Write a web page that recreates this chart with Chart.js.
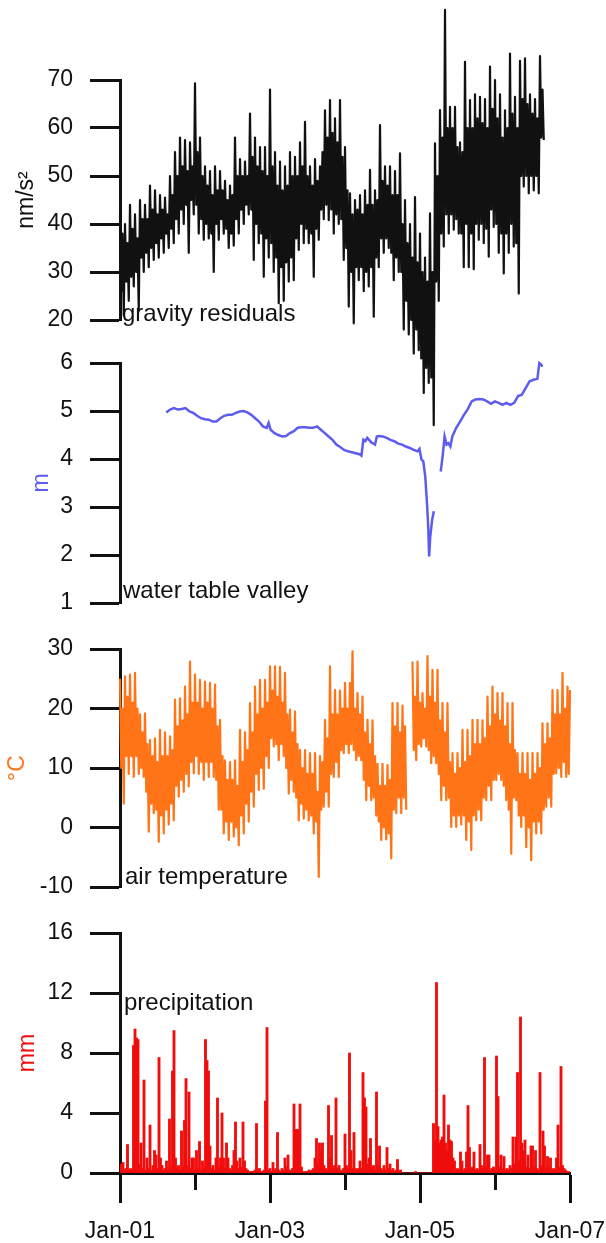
<!DOCTYPE html>
<html>
<head>
<meta charset="utf-8">
<script src="https://cdn.jsdelivr.net/npm/chart.js@4.4.0/dist/chart.umd.min.js"></script>
<style>
  html, body { margin: 0; padding: 0; background: #fff; }
  #wrap { position: relative; width: 606px; height: 1243px; overflow: hidden; }
  #wrap canvas { position: absolute; left: 0; top: 0; }
  .lbl { position: absolute; font: 24px "Liberation Sans", Arial, sans-serif; line-height: 24px; color: #111; white-space: nowrap; }
</style>
</head>
<body>
<div id="wrap">
  <canvas id="precipChart" width="606" height="1243"></canvas>
  <canvas id="tempChart" width="606" height="1243"></canvas>
  <canvas id="waterChart" width="606" height="1243"></canvas>
  <canvas id="gravityChart" width="606" height="1243"></canvas>
  <div class="lbl" style="left:122px;top:301px">gravity residuals</div>
  <div class="lbl" style="left:123px;top:578px">water table valley</div>
  <div class="lbl" style="left:125px;top:864px">air temperature</div>
  <div class="lbl" style="left:124px;top:990px">precipitation</div>
</div>
<script>
// ---------- data ----------
const yearTicks = [2001, 2002, 2003, 2004, 2005, 2006, 2007];
const yearTickLabels = ['Jan-01', '', 'Jan-03', '', 'Jan-05', '', 'Jan-07'];

// gravity residuals, nm/s², one value every 1/60 year (high / low swings of the noisy record)
const gravityStart = 2001, gravityStep = 1 / 60;
const gravityResiduals = [
  42, 26, 38, 21, 40, 28, 36, 24, 44, 29, 39, 27, 42, 30, 37, 22, 45, 33, 41, 30,
  44, 34, 41, 31, 48, 35, 43, 32.5, 47, 36, 42, 33, 46, 37, 43, 34, 45.5, 38, 42, 35,
  50, 39, 46, 36, 55, 41, 50, 38, 58, 43, 52, 40, 57.5, 44, 51, 34, 57, 45, 52, 42,
  69.3, 44, 55, 38, 58, 41, 50, 36.7, 52, 40, 48, 37, 51, 38, 46, 30, 52, 40, 47, 36.7,
  51, 41, 47, 38, 49, 39, 45, 35, 48, 38, 46, 35.5, 58, 41, 50, 38, 53.5, 43, 50, 40,
  53, 44, 50, 42, 63, 43, 54, 32.5, 58, 40, 52, 36, 56, 38, 51, 29, 56, 37, 50, 33,
  68, 36, 52, 30, 55, 33, 48, 23.5, 53, 31, 47, 24, 52, 32, 48, 28, 55, 33, 50, 28.3,
  54, 37, 50, 34.6, 57, 40, 52, 36, 61.3, 39, 50, 36, 52, 38, 48, 29, 53.5, 39, 49, 36.7,
  52, 43, 55, 41, 63.7, 44, 58, 40.8, 65.8, 43, 59, 38, 62, 42, 57, 40, 65.8, 41, 54, 32.5,
  56, 35, 47, 22.8, 46.4, 30, 42, 19.3, 45, 31, 43, 28.3, 46, 31, 42, 26, 47, 30, 44, 27,
  51.3, 31, 44, 20.7, 47, 33, 45, 31, 60.6, 37, 49, 34, 52, 37, 48, 35, 52, 34, 46, 28.3,
  51, 33, 46, 30, 54.7, 30, 40, 18, 45, 24, 36, 17, 40, 20, 33, 13, 45.6, 18, 32, 13.7,
  38, 12, 30, 4.8, 33, 10, 28, 6.9, 42.2, 8, 30, -1.9, 56.8, 28, 50, 24, 63.75, 38, 58, 35.3,
  84.6, 42, 60, 38, 64.4, 42, 60, 38.8, 64.4, 41, 56, 38, 57, 38, 55, 31, 73.8, 40, 60, 31,
  65.8, 38, 60, 30.6, 67, 40, 62, 36.7, 66.5, 40, 61, 36, 66, 39, 60, 33.2, 72.8, 43, 64, 39.4,
  70, 40, 62, 34, 67, 38, 58, 29.7, 63.7, 38, 60, 34, 75.5, 40, 63, 35.3, 66.5, 36, 60, 25.5,
  74, 50, 66, 47.8, 74.5, 50, 65, 46.4, 67, 50, 63, 47, 66, 50, 62, 46.4, 75, 58, 68, 57.5
];

// water table valley, m
const waterYears = [
  2001.617, 2001.668, 2001.720, 2001.771, 2001.823, 2001.874, 2001.926, 2001.977,
  2002.028, 2002.080, 2002.132, 2002.183, 2002.235, 2002.286, 2002.338, 2002.389,
  2002.441, 2002.492, 2002.544, 2002.596, 2002.647, 2002.699, 2002.750, 2002.802,
  2002.854, 2002.905, 2002.957, 2002.982, 2003.008, 2003.060, 2003.111, 2003.163,
  2003.214, 2003.266, 2003.318, 2003.369, 2003.421, 2003.472, 2003.524, 2003.575,
  2003.627, 2003.678, 2003.730, 2003.781, 2003.833, 2003.884, 2003.936, 2003.987,
  2004.039, 2004.091, 2004.142, 2004.194, 2004.219, 2004.245, 2004.271, 2004.297,
  2004.348, 2004.400, 2004.425, 2004.451, 2004.503, 2004.555, 2004.606, 2004.658,
  2004.709, 2004.761, 2004.812, 2004.864, 2004.916, 2004.967, 2004.993, 2005.019,
  2005.044, 2005.070, 2005.096, 2005.111, 2005.122, 2005.137, 2005.163, 2005.184,
  2005.230,
  2005.276, 2005.302, 2005.328, 2005.354, 2005.379, 2005.405, 2005.431, 2005.483,
  2005.534, 2005.586, 2005.637, 2005.689, 2005.740, 2005.792, 2005.843, 2005.895,
  2005.947, 2005.998, 2006.050, 2006.101, 2006.153, 2006.204, 2006.256, 2006.307,
  2006.359, 2006.410, 2006.462, 2006.513, 2006.565, 2006.591, 2006.616, 2006.631
];
const waterTable = [
  4.97, 5.03, 5.06, 5.03, 5.04, 5.06, 4.99, 4.96,
  4.90, 4.85, 4.83, 4.82, 4.78, 4.78, 4.85, 4.90,
  4.92, 4.92, 4.96, 4.99, 5.00, 4.97, 4.92, 4.85,
  4.78, 4.68, 4.65, 4.75, 4.61, 4.54, 4.50, 4.47,
  4.48, 4.54, 4.58, 4.65, 4.66, 4.66, 4.65, 4.65,
  4.68, 4.61, 4.54, 4.47, 4.40, 4.30, 4.25, 4.19,
  4.16, 4.14, 4.12, 4.10, 4.07, 4.40, 4.37, 4.44,
  4.35, 4.30, 4.47, 4.48, 4.47, 4.44, 4.40, 4.37,
  4.32, 4.30, 4.26, 4.23, 4.19, 4.16, 4.21, 3.99,
  3.95, 3.64, 3.01, 2.53, 1.97, 2.39, 2.74, 2.91,
  null,
  3.74, 4.06, 4.47, 4.30, 4.33, 4.26, 4.47, 4.65,
  4.78, 4.92, 5.04, 5.20, 5.24, 5.25, 5.24, 5.20,
  5.15, 5.20, 5.17, 5.13, 5.17, 5.13, 5.17, 5.31,
  5.34, 5.48, 5.62, 5.65, 5.67, 6.00, 5.97, 5.92
];

// air temperature, °C, one value every 1/60 year (daily highs / lows swing)
const tempStart = 2001, tempStep = 1 / 60;
const airTemperature = [
  25, 10, 20, 4, 25.4, 12, 22, 9, 25.7, 12, 21, 8.5, 26, 12, 20, 9, 19, 10, 16, 8.5,
  19.2, 6, 14, -0.7, 14.7, 4, 12, 2.4, 15, 3, 11, -2.4, 16.4, 2, 12, -1, 16, 3, 12, 0.5,
  15.3, 4, 13, 1.2, 21.5, 7, 17, 5.2, 21.7, 8, 18, 6, 23.7, 9, 19, 6.9, 27.9, 11, 21, 9.1,
  25.7, 12, 21, 9, 24.8, 11, 20, 8, 24.5, 11, 21, 8.5, 24.3, 11, 20, 8.5, 24, 8, 17, 3,
  18.1, 3, 12, -1, 11.3, 1, 8, -2.1, 11, 1, 8, -1.5, 11.3, 0, 7, -3, 16.4, 2, 11, -1,
  16, 4, 13, 1, 20.9, 6, 16, 3.5, 23.7, 9, 19, 6.3, 24.8, 10, 20, 6.5, 24.8, 12, 21, 10,
  27.1, 15, 23, 13.6, 27.1, 14, 22, 11.3, 27, 14, 21, 12, 26, 10, 19, 5.7, 19.8, 8, 16, 6,
  19.5, 5, 14, 1.2, 13, 4, 10, 1.5, 13, 3, 9, 1.2, 12.5, 2, 9, -1, 12.5, 1, 6, -8.3,
  12, 3, 11, 3.5, 18.1, 6, 15, 3.5, 27.1, 9, 19, 8.5, 23.1, 11, 19, 8.5, 23, 13, 20, 12.5,
  24.3, 14, 20, 12.5, 24.3, 14, 29.6, 13, 20, 11.3, 22.6, 12, 19, 11.3, 22, 8, 16, 4.6, 18.1, 7,
  14, 4.6, 18, 5, 12, 2, 10.7, 1, 7, -2.1, 10.7, 0, 7, -2, 10.5, -1, 8, -5.2, 20.9, 3,
  17, 2.4, 20.9, 5, 16, 2.4, 20.5, 5, 17, 3, null, null, null, null, 27.9, 13, 22, 11.3, 27.9, 14,
  21, 13.6, 22.6, 15, 20, 13.6, 28.8, 13, 22, 10.8, 26.5, 12, 21, 10.8, 26.5, 9, 18, 4.6, 20.9, 7,
  16, 4.6, 20.9, 5, 11, 0.1, 12.5, 2, 9, 0.1, 12.5, 2, 10, 0.5, 16.4, 2, 11, -2.1, 16.4, 1,
  12, -3.8, 18.1, 2, 14, 1.2, 18.1, 3, 14, 1.2, 18, 5, 15, 4.6, 22, 7, 17, 4.6, 23.7, 8,
  19, 8, 22.6, 9, 18, 8, 22.6, 7, 17, 4.6, 20.9, 3, 14, -4.4, 20.9, 5, 13, 4.6, 12.5, 2,
  9, 0.1, 12.5, 2, 9, -3.3, 12.5, 0, 8, -5.5, 12.5, 1, 9, -1, 12.5, 1, 10, -1, 17.5, 3,
  14, 3.5, 17.5, 5, 15, 3.5, 23.1, 9, 19, 9.1, 23.1, 10, 19, 8.5, 26, 11, 20, 8.5, 23.7, 9,
  23.1, 7.4
];

// precipitation, mm, one value every 0.02 year
const precipStart = 2001, precipStep = 0.02;
const precipitation = [
  0.5, 0.6, 0.7, 0.2, 0.3, 1.9, 0.2, 0.3, 0.2, 8.5,
  9.6, 9.0, 8.9, 0.6, 2, 0.3, 6.2, 0.2, 1, 0.3,
  3.2, 0.2, 0.5, 1.5, 1.2, 0.3, 7.7, 1, 0.5, 0.2,
  0.3, 0.8, 0.2, 3.6, 0.4, 6.8, 9.5, 1, 0.3, 0.5,
  0.2, 2.8, 0.4, 3.5, 6.3, 0.5, 5.4, 0.3, 1, 1,
  0.2, 1.5, 0.3, 2.1, 0.2, 0.8, 0.3, 8.9, 7.5, 6.8,
  1.8, 0.3, 0.5, 0.2, 1, 5, 0.4, 1, 4, 1,
  0.3, 2, 1, 0.3, 0.2, 0.5, 1.5, 3.4, 0.8, 0.3,
  1, 0.4, 3.4, 0.8, 0.3, 0.2, 0.1, 0.1, 0.1, 0.1,
  0.2, 3.3, 0.2, 0.3, 0.1, 0.1, 0.2, 4.8, 9.7, 0.2,
  0.3, 0.1, 0.7, 0.2, 0.3, 2.7, 0.2, 0.1, 0.3, 0.2,
  1, 0.4, 1.2, 0.2, 0.1, 0.3, 4.6, 2.9, 2.9, 2.9,
  4.6, 0.4, 0.1, 0.1, 0.1, 0.1, 0.2, 0.1, 0.2, 0.3,
  1, 2.3, 0.6, 2, 1.5, 2, 0.5, 0.3, 0.2, 4.5,
  1, 2.5, 0.3, 0.5, 5, 0.3, 0.5, 0.2, 0.1, 0.3,
  2.6, 0.5, 0.3, 8, 1.5, 0.3, 2.7, 0.3, 0.2, 0.3,
  0.8, 0.3, 6.7, 5, 4.4, 0.6, 1, 2.3, 0.3, 0.5,
  0.2, 5.4, 0.5, 1.8, 0.3, 0.2, 0.5, 0.2, 1.7, 0.3,
  0.6, 0.2, 0.3, 0.1, 0.2, 0.9, 0.1, 0.2, 0, 0,
  0, 0, 0, 0, 0, 0, 0, 0.1, 0, 0,
  0, 0, 0, 0, 0, 0, 0, 0, 0, 3.3,
  2.2, 12.7, 3.1, 2, 2.2, 2.4, 5.2, 2, 1.5, 3.2,
  2.2, 2.1, 1, 0.8, 0.2, 0.3, 0.2, 1.4, 0.8, 0.2,
  0.3, 1.4, 4.5, 1.7, 0.3, 0.4, 1.4, 0.2, 0.3, 0.2,
  1.9, 0.5, 0.3, 7.7, 0.4, 1.2, 1.2, 0.2, 0.3, 0.4,
  0.2, 7.8, 5.1, 0.4, 1.2, 0.3, 1.1, 0.2, 0.3, 0.2,
  0.5, 0.3, 2.4, 0.6, 2.4, 6.7, 0.8, 10.4, 2, 1.5,
  2.2, 0.4, 1.2, 0.3, 1.8, 1.8, 0.4, 1.5, 0.3, 0.2,
  6.7, 0.5, 2.8, 1.8, 0.3, 1.1, 0.4, 1, 0.2, 0.3,
  0.2, 1, 3.2, 0.4, 7.1, 0.5, 0.3, 0.2, 0.1, 0.1
];

// ---------- look ----------
const INK = '#111111';
const BLUE = '#5c5cef';
const ORANGE = '#ff7417';
const RED = '#f20d0d';
const PAGE_H = 1243;
const AXIS_W = 120;      // y axis block width -> plot starts at x=120
const X_AXIS_H = 70;     // bottom axis block height
const FONT = 23;

Chart.defaults.font.family = '"Liberation Sans", Arial, sans-serif';
Chart.defaults.font.size = FONT;
Chart.defaults.color = INK;

const regular = (values, start, step) => values.map((v, i) => ({ x: start + i * step, y: v }));
const xLabel = v => { const k = yearTicks.indexOf(v); return k >= 0 ? yearTickLabels[k] : ''; };

// dense noisy record: thin line, no clipping so swings can leave the panel
const trace = (values, start, step, color, width) => [{
  data: regular(values, start, step), borderColor: color, borderWidth: width,
  borderJoinStyle: 'round', pointRadius: 0, spanGaps: false, clip: false
}];

function makePanel(id, o) {
  const isMajor = v => Math.abs(v / o.labelEvery - Math.round(v / o.labelEvery)) < 1e-6;
  const padBottom = o.showX ? PAGE_H - o.bottom - X_AXIS_H : PAGE_H - o.bottom;
  return new Chart(document.getElementById(id), {
    type: o.type || 'line',
    data: { datasets: o.datasets },
    options: {
      responsive: false,
      animation: false,
      events: [],
      layout: { padding: { left: 0, right: 36, top: o.top, bottom: padBottom } },
      plugins: { legend: { display: false }, tooltip: { enabled: false } },
      scales: {
        x: {
          type: 'linear', min: 2001, max: 2007, offset: false, display: !!o.showX,
          afterFit: s => {
            if (!o.showX) return;
            s.height = X_AXIS_H;
            s.paddingLeft = 0; s.paddingRight = 0;   // keep the plot width equal in every panel
          },
          grid: {
            drawOnChartArea: false, offset: false, tickLength: 30, tickWidth: 3, tickColor: INK,
            tickBorderDash: c => (c.tick && xLabel(c.tick.value)) ? [] : [15, 100]
          },
          border: { width: 3, color: INK },
          ticks: { stepSize: 1, autoSkip: false, maxRotation: 0, padding: 15, color: INK, callback: xLabel }
        },
        y: {
          min: o.yMin, max: o.yMax,
          afterFit: s => { s.width = AXIS_W; },
          grid: {
            drawOnChartArea: false, tickLength: 30, tickWidth: 3, tickColor: INK,
            tickBorderDash: c => (c.tick && isMajor(c.tick.value)) ? [] : [0, 15, 100]
          },
          border: { width: 3, color: INK },
          ticks: { stepSize: o.yStep, padding: 17, color: INK, callback: v => isMajor(v) ? v : '' },
          title: { display: true, text: o.title, color: o.titleColor, font: { size: FONT },
                   padding: { top: o.titlePad, bottom: 0 } }
        }
      }
    }
  });
}

makePanel('precipChart', {
  type: 'bar', top: 933, bottom: 1173, showX: true,
  yMin: 0, yMax: 16, yStep: 2, labelEvery: 4,
  title: 'mm', titleColor: RED, titlePad: 14,
  datasets: [{
    data: regular(precipitation, precipStart, precipStep),
    backgroundColor: RED, borderWidth: 0, barThickness: 2.2
  }]
});

makePanel('tempChart', {
  top: 649, bottom: 887,
  yMin: -10, yMax: 30, yStep: 5, labelEvery: 10,
  title: '°C', titleColor: ORANGE, titlePad: 4,
  datasets: trace(airTemperature, tempStart, tempStep, ORANGE, 2.2)
});

makePanel('waterChart', {
  top: 363, bottom: 603,
  yMin: 1, yMax: 6, yStep: 0.5, labelEvery: 1,
  title: 'm', titleColor: BLUE, titlePad: 28,
  datasets: [{
    data: waterYears.map((x, i) => ({ x, y: waterTable[i] })),
    borderColor: BLUE, borderWidth: 2.5, pointRadius: 0, spanGaps: false, clip: false
  }]
});

makePanel('gravityChart', {
  top: 80, bottom: 320,
  yMin: 20, yMax: 70, yStep: 5, labelEvery: 10,
  title: 'nm/s²', titleColor: INK, titlePad: 13,
  datasets: trace(gravityResiduals, gravityStart, gravityStep, INK, 2.2)
});
</script>
</body>
</html>
